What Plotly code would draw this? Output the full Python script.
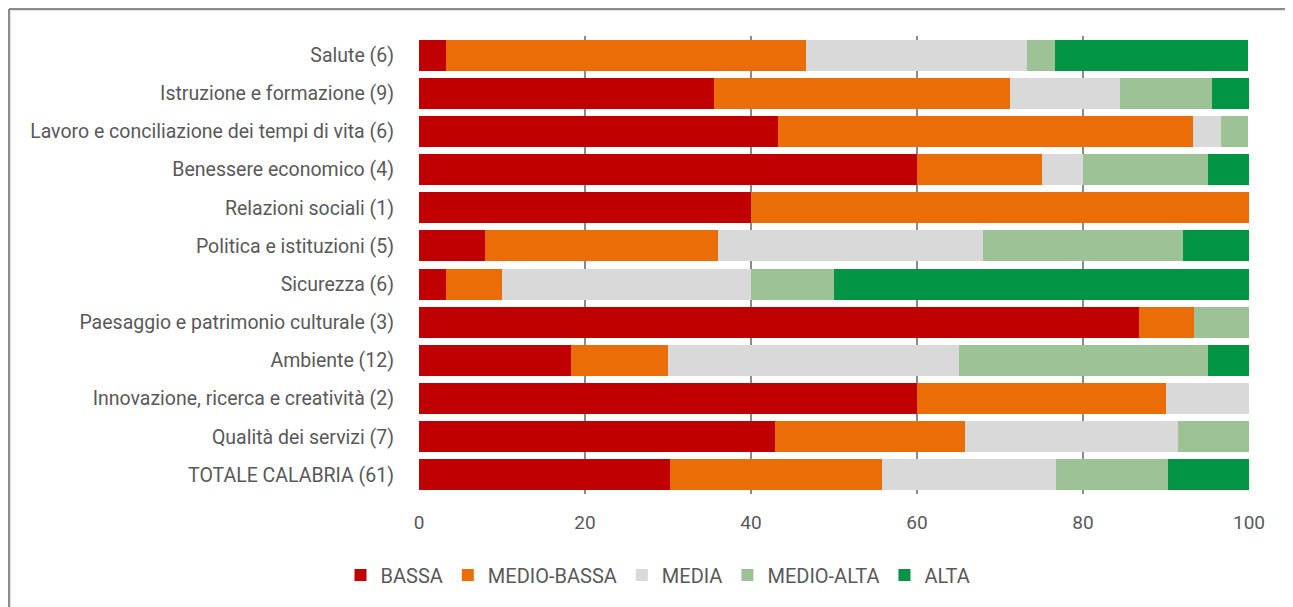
import plotly.graph_objects as go

categories = [
    "Salute (6)",
    "Istruzione e formazione (9)",
    "Lavoro e conciliazione dei tempi di vita (6)",
    "Benessere economico (4)",
    "Relazioni sociali (1)",
    "Politica e istituzioni (5)",
    "Sicurezza (6)",
    "Paesaggio e patrimonio culturale (3)",
    "Ambiente (12)",
    "Innovazione, ricerca e creatività (2)",
    "Qualità dei servizi (7)",
    "TOTALE CALABRIA (61)",
]

bassa = [3.3, 35.6, 43.3, 60.0, 40.0, 8.0, 3.3, 86.7, 18.3, 60.0, 42.9, 30.2]
medio_bassa = [43.3, 35.6, 50.0, 15.0, 60.0, 28.0, 6.7, 6.7, 11.7, 30.0, 22.9, 25.6]
media = [26.7, 13.3, 3.3, 5.0, 0.0, 32.0, 30.0, 0.0, 35.0, 10.0, 25.7, 21.0]
medio_alta = [3.3, 11.1, 3.3, 15.0, 0.0, 24.0, 10.0, 6.7, 30.0, 0.0, 8.6, 13.4]
alta = [23.3, 4.4, 0.0, 5.0, 0.0, 8.0, 50.0, 0.0, 5.0, 0.0, 0.0, 9.8]

series_names = ["BASSA", "MEDIO-BASSA", "MEDIA", "MEDIO-ALTA", "ALTA"]
series_values = [bassa, medio_bassa, media, medio_alta, alta]
series_colors = ["#C00000", "#EB6D07", "#D9D9D9", "#9CC296", "#009444"]

x_ticks = [0, 20, 40, 60, 80, 100]

FONT = "Roboto, Arial, sans-serif"
TXT = "#595959"

fig = go.Figure()
for name, vals, col in zip(series_names, series_values, series_colors):
    fig.add_trace(go.Bar(
        y=categories, x=vals, name=name, orientation="h",
        marker=dict(color=col, line=dict(width=0)),
    ))

W, H = 1285, 599
L, R, T, B = 411, 44, 28, 113
pw = W - L - R
ph = H - T - B


def px_x(v):
    return (v - L) / pw


def px_y(v):
    return (T + ph - v) / ph


fig.update_layout(
    width=W, height=H,
    barmode="stack", bargap=0.19,
    plot_bgcolor="white", paper_bgcolor="white",
    margin=dict(l=L, r=R, t=T, b=B, pad=0),
    font=dict(family=FONT, size=19, color=TXT),
    xaxis=dict(
        range=[0, 100], tickvals=x_ticks, showgrid=True,
        gridcolor="#8A8A8A", gridwidth=1.5, zeroline=False,
        showline=False, ticklabelstandoff=15,
        tickfont=dict(family=FONT, size=19, color=TXT),
        fixedrange=True,
    ),
    yaxis=dict(
        categoryorder="array", categoryarray=categories,
        autorange="reversed", showgrid=False, zeroline=False,
        showline=False, ticklabelstandoff=24,
        tickfont=dict(family=FONT, size=19.5, color=TXT),
    ),
    legend=dict(
        orientation="h", xref="container", yref="container",
        x=650 / W, xanchor="center", y=1 - 567 / H, yanchor="middle",
        font=dict(family=FONT, size=20, color=TXT),
        traceorder="normal", itemwidth=30,
    ),
    showlegend=True,
    shapes=[
        dict(type="line", xref="paper", yref="paper",
             x0=px_x(1), x1=px_x(W + 20), y0=px_y(1), y1=px_y(1),
             line=dict(color="#8C8C8C", width=2.5)),
        dict(type="line", xref="paper", yref="paper",
             x0=px_x(1), x1=px_x(1), y0=px_y(1), y1=px_y(H + 20),
             line=dict(color="#8C8C8C", width=2.5)),
    ],
)

fig.write_html("out.html")
